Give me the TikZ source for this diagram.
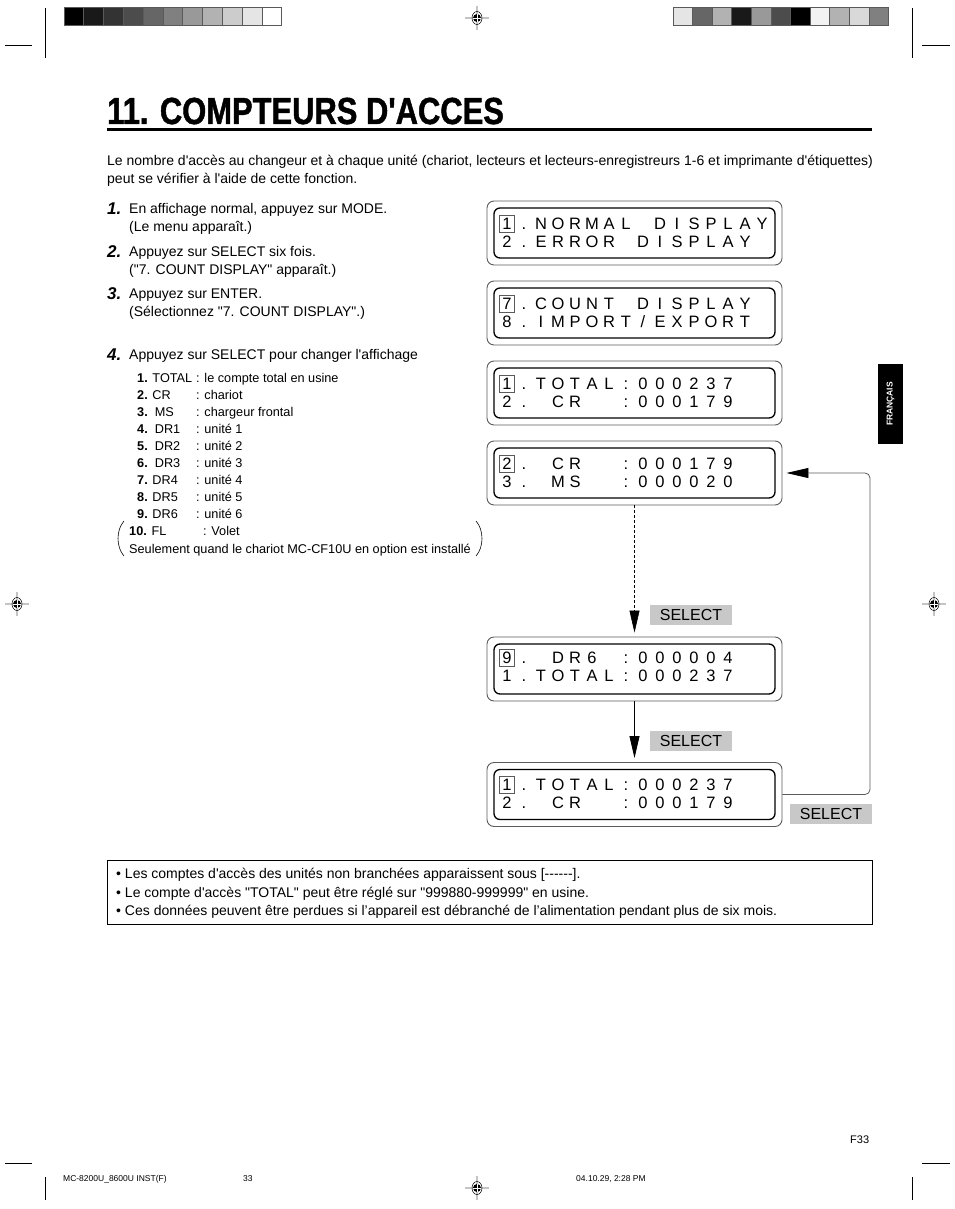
\documentclass[tikz,border=0pt]{standalone}
\usepackage{fontspec}
\setmainfont[Ligatures=TeXOff]{Liberation Sans}
\newfontfamily\titlefont[Ligatures=TeXOff,FakeStretch=0.82,FakeBold=1.2]{Liberation Sans Bold}
\usepackage{xcolor}
\definecolor{selGray}{HTML}{C8C8C8}
\definecolor{boxGray}{HTML}{5A5A5A}
\definecolor{regGray}{HTML}{C4C4C4}
\usetikzlibrary{arrows.meta}

\newcommand{\lcdrow}[5]{%
  \node[lcdchar, #3] (#1-0) at (507, #2) {#4};
  \foreach \ch [count=\i] in {#5}{
    \node[lcdchar] (#1-\i) at ({507+17*\i}, #2) {\ch};
  }}
\newcommand{\regmark}[2]{%
  \draw[regGray, line width=1.2] (#1-12,#2) -- (#1+12,#2) (#1,#2-12) -- (#1,#2+12);
  \draw[black, line width=0.5] (#1,#2) ellipse (5 and 6.5);
  \fill[black] (#1,#2) circle (4);
  \draw[white, line width=0.7] (#1-4,#2) -- (#1+4,#2) (#1,#2-4) -- (#1,#2+4);}

\begin{document}
\begin{tikzpicture}[x=1pt, y=-1pt,
  txt/.style={inner sep=0, anchor=base west, font=\fontsize{14}{16}\selectfont},
  small/.style={inner sep=0, anchor=base west, font=\fontsize{12.7}{14}\selectfont},
  stepnum/.style={inner sep=0, anchor=base west, font=\bfseries\itshape\fontsize{17}{18}\selectfont},
  lcdout/.style={draw=boxGray, line width=0.9, rounded corners=7, minimum width=295, minimum height=64, inner sep=0},
  lcdin/.style={draw=black, line width=1.3, rounded corners=6, minimum width=281, minimum height=50, inner sep=0},
  lcdchar/.style={inner sep=0, text height=11.8, text depth=0, font=\fontsize{16.5}{17}\selectfont},
  cursor/.style={draw=boxGray, line width=0.7, minimum width=15, minimum height=17},
  selbox/.style={fill=selGray, minimum width=82, minimum height=20, inner sep=0, font=\fontsize{16}{17}\selectfont},
  arr/.style={-{Triangle[length=22pt,width=10pt,black]}, shorten >=4}]
\useasboundingbox (0,0) rectangle (954,1209);

\foreach \k [count=\i from 0] in {100,90,80,70,60,50,40,30,20,10,0}
  \filldraw[fill=black!\k, draw=boxGray, line width=0.8] ({64+19.8*\i},7) rectangle ++(19.8,18);
\foreach \k [count=\i from 0] in {10,60,30,90,40,70,100,5,30,15,50}
  \filldraw[fill=black!\k, draw=boxGray, line width=0.8] ({673+19.6*\i},7) rectangle ++(19.6,18);

\draw[line width=0.6] (45,8) -- (45,58) (5,45) -- (32,45);
\draw[line width=0.6] (912,8) -- (912,58) (922,45) -- (950,45);
\draw[line width=0.6] (45,1177) -- (45,1200) (5,1163) -- (32,1163);
\draw[line width=0.6] (912,1177) -- (912,1200) (922,1163) -- (950,1163);
\regmark{477}{18}
\regmark{17}{604}
\regmark{934}{604}
\regmark{477}{1188}

\node[inner sep=0, anchor=base west] (title) at (107,124) {\titlefont\fontsize{37.7}{40}\selectfont 11. COMPTEURS D'ACCES};
\draw[line width=3] (107,130) -- (872,130);

\node[txt] (intro1) at (107,166) {Le nombre d'accès au changeur et à chaque unité (chariot, lecteurs et lecteurs-enregistreurs 1-6 et imprimante d'étiquettes)};
\node[txt] (intro2) at (107,184) {peut se vérifier à l'aide de cette fonction.};

\node[stepnum] (n1) at (107,214) {1.};
\node[txt] (s1a) at (129,213) {En affichage normal, appuyez sur MODE.};
\node[txt] (s1b) at (129,231) {(Le menu apparaît.)};
\node[stepnum] (n2) at (107,257) {2.};
\node[txt] (s2a) at (129,256) {Appuyez sur SELECT six fois.};
\node[txt] (s2b) at (129,274) {("7. COUNT DISPLAY" apparaît.)};
\node[stepnum] (n3) at (107,299) {3.};
\node[txt] (s3a) at (129,298) {Appuyez sur ENTER.};
\node[txt] (s3b) at (129,316) {(Sélectionnez "7. COUNT DISPLAY".)};
\node[stepnum] (n4) at (107,360) {4.};
\node[txt] (s4a) at (129,359) {Appuyez sur SELECT pour changer l'affichage};

\node[small] (i1) at (137,382) {\textbf{1.} TOTAL};
\node[small] (d1) at (196,382) {: le compte total en usine};
\node[small] (i2) at (137,399) {\textbf{2.} CR};
\node[small] (d2) at (196,399) {: chariot};
\node[small] (i3) at (137,416) {\textbf{3.}\ \ MS};
\node[small] (d3) at (196,416) {: chargeur frontal};
\node[small] (i4) at (137,433) {\textbf{4.}\ \ DR1};
\node[small] (d4) at (196,433) {: unité 1};
\node[small] (i5) at (137,450) {\textbf{5.}\ \ DR2};
\node[small] (d5) at (196,450) {: unité 2};
\node[small] (i6) at (137,467) {\textbf{6.}\ \ DR3};
\node[small] (d6) at (196,467) {: unité 3};
\node[small] (i7) at (137,484) {\textbf{7.} DR4};
\node[small] (d7) at (196,484) {: unité 4};
\node[small] (i8) at (137,501) {\textbf{8.} DR5};
\node[small] (d8) at (196,501) {: unité 5};
\node[small] (i9) at (137,518) {\textbf{9.} DR6};
\node[small] (d9) at (196,518) {: unité 6};
\node[small] (i10) at (129,535) {\textbf{10.} FL};
\node[small] (d10) at (203,535) {: Volet};
\node[small] (opt) at (129,553) {Seulement quand le chariot MC-CF10U en option est installé};
\draw[line width=0.6] (124,521) .. controls (116,530) and (116,547) .. (124,556);
\draw[line width=0.6] (476,521) .. controls (484,530) and (484,547) .. (476,556);

\node[lcdout] (box1) at (634.5,233) {};
\node[lcdin] (box1in) at (box1) {};
\lcdrow{r1}{224}{cursor}{1}{.,N,O,R,M,A,L,,D,I,S,P,L,A,Y}
\lcdrow{r2}{242}{}{2}{.,E,R,R,O,R,,D,I,S,P,L,A,Y}

\node[lcdout] (box2) at (634.5,313) {};
\node[lcdin] (box2in) at (box2) {};
\lcdrow{r3}{304}{cursor}{7}{.,C,O,U,N,T,,D,I,S,P,L,A,Y}
\lcdrow{r4}{322}{}{8}{.,I,M,P,O,R,T,/,E,X,P,O,R,T}

\node[lcdout] (box3) at (634.5,393) {};
\node[lcdin] (box3in) at (box3) {};
\lcdrow{r5}{384}{cursor}{1}{.,T,O,T,A,L,:,0,0,0,2,3,7}
\lcdrow{r6}{402}{}{2}{.,,C,R,,,:,0,0,0,1,7,9}

\node[lcdout] (box4) at (634.5,473) {};
\node[lcdin] (box4in) at (box4) {};
\lcdrow{r7}{464}{cursor}{2}{.,,C,R,,,:,0,0,0,1,7,9}
\lcdrow{r8}{482}{}{3}{.,,M,S,,,:,0,0,0,0,2,0}

\node[lcdout] (box5) at (634.5,669) {};
\node[lcdin] (box5in) at (box5) {};
\lcdrow{r9}{658}{cursor}{9}{.,,D,R,6,,:,0,0,0,0,0,4}
\lcdrow{r10}{676}{}{1}{.,T,O,T,A,L,:,0,0,0,2,3,7}

\node[lcdout] (box6) at (634.5,794.5) {};
\node[lcdin] (box6in) at (box6) {};
\lcdrow{r11}{785}{cursor}{1}{.,T,O,T,A,L,:,0,0,0,2,3,7}
\lcdrow{r12}{803}{}{2}{.,,C,R,,,:,0,0,0,1,7,9}

\node[selbox] (sel1) at (691,615) {SELECT};
\node[selbox] (sel2) at (691,741) {SELECT};
\node[selbox] (sel3) at (831,814) {SELECT};

\draw[arr, dashed, dash pattern=on 3pt off 2pt, line width=0.6] (box4.south) -- (box5.north);
\draw[arr, line width=0.8] (box5.south) -- (box6.north);
\coordinate (ret) at (870,473);
\draw[arr, draw=boxGray, line width=0.8, rounded corners=5] (box6.east) -| (ret) -- (box4.east);

\node[draw, line width=1.2, minimum width=765, minimum height=64, inner sep=0, anchor=north west] (notes) at (107,860) {};
\node[txt] (nt1) at (116,878) {\textbullet\ Les comptes d'accès des unités non branchées apparaissent sous [------].};
\node[txt] (nt2) at (116,897) {\textbullet\ Le compte d'accès "TOTAL" peut être réglé sur "999880-999999" en usine.};
\node[txt] (nt3) at (116,915) {\textbullet\ Ces données peuvent être perdues si l’appareil est débranché de l’alimentation pendant plus de six mois.};

\node[fill=black, minimum width=25, minimum height=80, inner sep=0] (tab) at (890.5,404) {};
\node[rotate=90, text=white, inner sep=0, font=\bfseries\fontsize{8.5}{9}\selectfont] (tabtxt) at (tab) {FRANÇAIS};

\node[inner sep=0, anchor=base west, font=\fontsize{11}{12}\selectfont] (pg) at (850,1143) {F33};
\node[inner sep=0, anchor=base west, font=\fontsize{8.5}{9}\selectfont] (ft1) at (63,1181) {MC-8200U\_8600U INST(F)};
\node[inner sep=0, anchor=base west, font=\fontsize{8.5}{9}\selectfont] (ft2) at (243,1181) {33};
\node[inner sep=0, anchor=base west, font=\fontsize{8.5}{9}\selectfont] (ft3) at (576,1181) {04.10.29, 2:28 PM};
\end{tikzpicture}
\end{document}
